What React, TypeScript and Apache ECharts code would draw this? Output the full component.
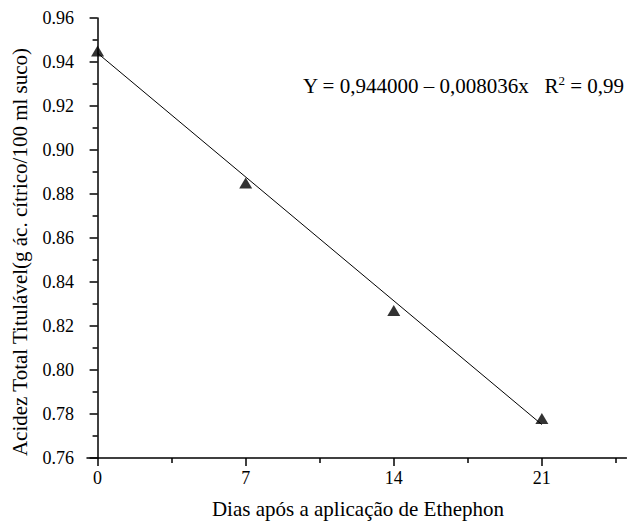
import React, { useEffect, useRef } from "react";
import * as echarts from "echarts";

const days = [0, 7, 14, 21];
const acidity = [0.945, 0.885, 0.827, 0.778];
const fitStart = [0, 0.944];
const fitEnd = [21, 0.7752];
const xMajorTicks = [0, 7, 14, 21];
const xMinorTicks = [3.5, 10.5, 17.5, 24.5];
const equationMain = "Y = 0,944000 – 0,008036x   R";
const equationTail = " = 0,99";
const xTitle = "Dias após a aplicação de Ethephon";
const yTitle = "Acidez Total Titulável(g ác. cítrico/100 ml suco)";

const FONT = "Liberation Serif";

export default function App() {
  const ref = useRef<HTMLDivElement>(null);
  useEffect(() => {
    if (!ref.current) return;
    const chart = echarts.init(ref.current, undefined, { renderer: "svg" });
    const axisLineStyle = { color: "#000", width: 1.5 };
    chart.setOption({
      animation: false,
      backgroundColor: "#fff",
      textStyle: { fontFamily: FONT },
      grid: { left: 87, right: 0.5, top: 18, bottom: 63, outerBoundsMode: "none", containLabel: false },
      xAxis: [
        {
          type: "value",
          min: -0.5,
          max: 25,
          position: "bottom",
          axisLine: { show: true, lineStyle: axisLineStyle },
          axisTick: { show: true, length: 8, lineStyle: { color: "#000", width: 1.5 }, customValues: xMajorTicks },
          axisLabel: { show: true, customValues: xMajorTicks, color: "#000", fontFamily: FONT, fontSize: 18, margin: 11 },
          splitLine: { show: false },
        },
        {
          type: "value",
          min: -0.5,
          max: 25,
          position: "bottom",
          axisLine: { show: false },
          axisTick: { show: true, length: 5, lineStyle: { color: "#000", width: 1.5 }, customValues: xMinorTicks },
          axisLabel: { show: false },
          splitLine: { show: false },
        },
      ],
      yAxis: {
        type: "value",
        min: 0.76,
        max: 0.96,
        interval: 0.02,
        axisLine: { show: true, lineStyle: axisLineStyle },
        axisTick: { show: true, length: 8, lineStyle: { color: "#000", width: 1.5 } },
        minorTick: { show: true, splitNumber: 2, length: 5, lineStyle: { color: "#000", width: 1.5 } },
        axisLabel: {
          color: "#000",
          fontFamily: FONT,
          fontSize: 18,
          margin: 13,
          formatter: (v: number) => v.toFixed(2),
        },
        splitLine: { show: false },
      },
      series: [
        {
          type: "line",
          data: [fitStart, fitEnd],
          symbol: "none",
          lineStyle: { color: "#000", width: 1 },
          z: 2,
        },
        {
          type: "scatter",
          data: days.map((d, i) => [d, acidity[i]]),
          symbol: "triangle",
          symbolSize: [13, 11],
          itemStyle: { color: "#000" },
          z: 3,
        },
      ],
      graphic: [
        {
          type: "text",
          x: 624,
          y: 86,
          style: {
            text: `{a|${equationMain}}{s|2}{a|${equationTail}}`,
            align: "right",
            verticalAlign: "middle",
            fill: "#000",
            rich: {
              a: { fontFamily: FONT, fontSize: 21, lineHeight: 25, fill: "#000" },
              s: { fontFamily: FONT, fontSize: 13, lineHeight: 25, fill: "#000", verticalAlign: "top" },
            },
          },
        },
        {
          type: "text",
          x: 358,
          y: 509,
          style: {
            text: xTitle,
            align: "center",
            verticalAlign: "middle",
            fontFamily: FONT,
            fontSize: 21,
            fill: "#000",
          },
        },
        {
          type: "text",
          x: 20,
          y: 252,
          rotation: Math.PI / 2,
          style: {
            text: yTitle,
            align: "center",
            verticalAlign: "middle",
            fontFamily: FONT,
            fontSize: 21,
            fill: "#000",
          },
        },
      ],
    });
    return () => chart.dispose();
  }, []);
  return (
    <div
      ref={ref}
      style={{ position: "fixed", left: 0, top: 0, width: 627, height: 521, background: "#fff" }}
    />
  );
}
